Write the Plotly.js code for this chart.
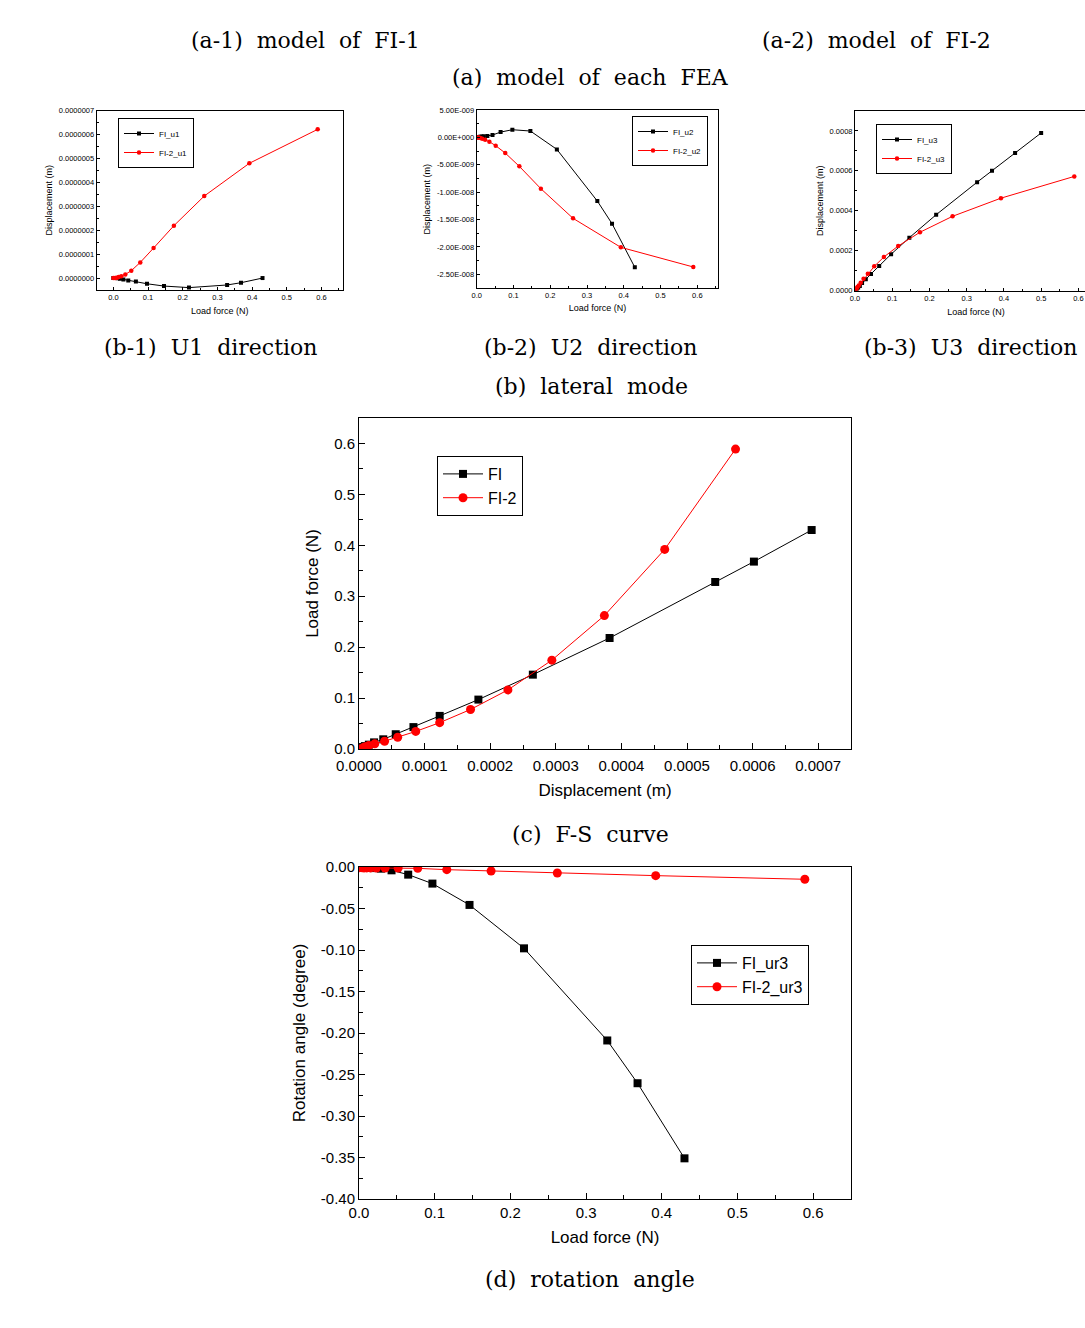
<!DOCTYPE html>
<html>
<head>
<meta charset="utf-8">
<script src="https://cdn.plot.ly/plotly-3.0.1.min.js"></script>
<style>
html,body{margin:0;padding:0;background:#fff;overflow:hidden;}
#chart{width:1100px;height:1328px;}
</style>
</head>
<body>
<div id="chart"></div>
<script>
// ---------- DATA ----------
// (b-1) U1 direction
const fiU1Load = [0, 0.0057, 0.0085, 0.013, 0.019, 0.029, 0.043, 0.065, 0.097, 0.146, 0.218, 0.328, 0.368, 0.43];
const fiU1Disp = [0, -0.1e-9, -0.3e-9, -1e-9, -3e-9, -5.6e-9, -10e-9, -14e-9, -24e-9, -33.5e-9, -40e-9, -29e-9, -19.5e-9, 0];
const fi2U1Load = [0, 0.0045, 0.0068, 0.0102, 0.0153, 0.023, 0.0345, 0.0517, 0.0776, 0.116, 0.1745, 0.262, 0.392, 0.589];
const fi2U1Disp = [0, 0.1e-9, 0.3e-9, 1.5e-9, 4e-9, 8e-9, 15.3e-9, 30.7e-9, 65.5e-9, 125.5e-9, 219e-9, 343e-9, 480e-9, 622e-9];

// (b-2) U2 direction
const fiU2Load = [0, 0.0057, 0.0085, 0.013, 0.019, 0.029, 0.043, 0.065, 0.097, 0.146, 0.218, 0.328, 0.368, 0.43];
const fiU2Disp = [0, 0.05e-9, 0.1e-9, 0.15e-9, 0.2e-9, 0.24e-9, 0.43e-9, 0.97e-9, 1.4e-9, 1.16e-9, -2.19e-9, -11.62e-9, -15.75e-9, -23.72e-9];
const fi2U2Load = [0, 0.0045, 0.0068, 0.0102, 0.0153, 0.023, 0.0345, 0.0517, 0.0776, 0.116, 0.1745, 0.262, 0.392, 0.589];
const fi2U2Disp = [0, -0.03e-9, -0.06e-9, -0.1e-9, -0.24e-9, -0.43e-9, -0.79e-9, -1.52e-9, -2.86e-9, -5.29e-9, -9.37e-9, -14.78e-9, -20.07e-9, -23.66e-9];
const u2TickVals = [5e-9, 0, -5e-9, -1e-8, -1.5e-8, -2e-8, -2.5e-8];
const u2TickText = ["5.00E-009", "0.00E+000", "-5.00E-009", "-1.00E-008", "-1.50E-008", "-2.00E-008", "-2.50E-008"];

// (b-3) U3 direction
const fiU3Load = [0, 0.0038, 0.0057, 0.0085, 0.013, 0.019, 0.029, 0.043, 0.065, 0.097, 0.146, 0.218, 0.328, 0.368, 0.43, 0.5];
const fiU3Disp = [0, 0.05e-4, 0.09e-4, 0.15e-4, 0.23e-4, 0.37e-4, 0.56e-4, 0.83e-4, 1.23e-4, 1.82e-4, 2.65e-4, 3.8e-4, 5.43e-4, 6.0e-4, 6.9e-4, 7.9e-4];
const fi2U3Load = [0, 0.003, 0.0045, 0.0068, 0.0102, 0.0153, 0.023, 0.0345, 0.0517, 0.0776, 0.116, 0.1745, 0.262, 0.392, 0.589];
const fi2U3Disp = [0, 0.07e-4, 0.1e-4, 0.17e-4, 0.25e-4, 0.39e-4, 0.59e-4, 0.84e-4, 1.21e-4, 1.68e-4, 2.23e-4, 2.92e-4, 3.72e-4, 4.63e-4, 5.72e-4];

// (c) F-S curve
const fiCDisp = [0, 0.05e-4, 0.09e-4, 0.15e-4, 0.23e-4, 0.37e-4, 0.56e-4, 0.83e-4, 1.23e-4, 1.82e-4, 2.65e-4, 3.82e-4, 5.43e-4, 6.02e-4, 6.9e-4];
const fiCLoad = [0, 0.0038, 0.0057, 0.0085, 0.013, 0.019, 0.029, 0.043, 0.065, 0.097, 0.146, 0.218, 0.328, 0.368, 0.43];
const fi2CDisp = [0, 0.07e-4, 0.1e-4, 0.15e-4, 0.24e-4, 0.39e-4, 0.59e-4, 0.865e-4, 1.23e-4, 1.70e-4, 2.27e-4, 2.94e-4, 3.74e-4, 4.66e-4, 5.74e-4];
const fi2CLoad = [0, 0.003, 0.0045, 0.0068, 0.0102, 0.0153, 0.023, 0.0345, 0.0517, 0.0776, 0.116, 0.1745, 0.262, 0.392, 0.589];

// (d) rotation angle
const fiUr3Load = [0, 0.0057, 0.0085, 0.013, 0.019, 0.029, 0.043, 0.065, 0.097, 0.146, 0.218, 0.328, 0.368, 0.43];
const fiUr3Angle = [-0.001, -0.001, -0.0011, -0.0012, -0.0013, -0.002, -0.004, -0.0092, -0.020, -0.0457, -0.098, -0.209, -0.2605, -0.351];
const fi2Ur3Load = [0, 0.0045, 0.0068, 0.0102, 0.0153, 0.023, 0.0345, 0.0517, 0.0776, 0.116, 0.1745, 0.262, 0.392, 0.589];
const fi2Ur3Angle = [-0.001, -0.001, -0.0011, -0.0011, -0.0011, -0.0012, -0.0012, -0.0013, -0.0016, -0.0032, -0.0048, -0.0072, -0.0104, -0.0148];
const urTickVals = [0, -0.05, -0.10, -0.15, -0.20, -0.25, -0.30, -0.35, -0.40];
const urTickText = ["0.00", "-0.05", "-0.10", "-0.15", "-0.20", "-0.25", "-0.30", "-0.35", "-0.40"];

// captions
const captions = [
  {text: "(a-1)\u00a0\u00a0model\u00a0\u00a0of\u00a0\u00a0FI-1", cx: 305, cy: 40},
  {text: "(a-2)\u00a0\u00a0model\u00a0\u00a0of\u00a0\u00a0FI-2", cx: 876, cy: 40},
  {text: "(a)\u00a0\u00a0model\u00a0\u00a0of\u00a0\u00a0each\u00a0\u00a0FEA", cx: 590, cy: 78},
  {text: "(b-1)\u00a0\u00a0U1\u00a0\u00a0direction", cx: 210, cy: 348},
  {text: "(b-2)\u00a0\u00a0U2\u00a0\u00a0direction", cx: 590, cy: 347},
  {text: "(b-3)\u00a0\u00a0U3\u00a0\u00a0direction", cx: 970, cy: 348},
  {text: "(b)\u00a0\u00a0lateral\u00a0\u00a0mode", cx: 591, cy: 386},
  {text: "(c)\u00a0\u00a0F-S\u00a0\u00a0curve", cx: 590, cy: 834},
  {text: "(d)\u00a0\u00a0rotation\u00a0\u00a0angle", cx: 590, cy: 1279}
];

// ---------- LAYOUT ----------
const W = 1100, H = 1328;
const SANS = "Liberation Sans, Arial, sans-serif";
const fx = p => p / W;
const fy = p => 1 - p / H;

function axis(o) {
  const a = {
    domain: o.domain, range: o.range, anchor: o.anchor,
    showline: true, linecolor: '#000', linewidth: 1, mirror: true,
    ticks: 'inside', ticklen: o.big ? 6 : 3, tickwidth: 1, tickcolor: '#000',
    showgrid: false, zeroline: false,
    tickfont: {family: SANS, size: o.big ? 15 : 7.5, color: '#000'},
    title: {text: o.title, font: {family: SANS, size: o.big ? 17 : 9, color: '#000'}, standoff: o.standoff},
    minor: {ticks: 'inside', ticklen: o.big ? 4 : 2, tickcolor: '#000', tickwidth: 1, showgrid: false,
            tickmode: 'linear', tick0: 0, dtick: o.minor},
    automargin: false
  };
  if (o.labelOff) a.ticklabelstandoff = o.labelOff;
  if (o.tickvals) { a.tickmode = 'array'; a.tickvals = o.tickvals; a.ticktext = o.ticktext; }
  else { a.tickmode = 'linear'; a.tick0 = 0; a.dtick = o.dtick; a.tickformat = o.fmt; }
  return a;
}

function legend(x, y, size, itemwidth) {
  return {x: fx(x), y: fy(y), xanchor: 'left', yanchor: 'top', bgcolor: 'rgba(255,255,255,0)',
          bordercolor: '#000', borderwidth: 1, font: {family: SANS, size: size, color: '#000'},
          itemwidth: itemwidth, tracegroupgap: 0};
}

function tr(x, y, name, color, symbol, size, xa, ya, lg) {
  return {x: x, y: y, name: name, type: 'scatter', mode: 'lines+markers',
          line: {color: color, width: 1}, marker: {color: color, symbol: symbol, size: size},
          xaxis: xa, yaxis: ya, legend: lg, showlegend: true};
}

const traces = [
  tr(fiU1Load, fiU1Disp, 'FI_u1', '#000', 'square', 4, 'x', 'y', 'legend'),
  tr(fi2U1Load, fi2U1Disp, 'FI-2_u1', '#ff0000', 'circle', 4.5, 'x', 'y', 'legend'),
  tr(fiU2Load, fiU2Disp, 'FI_u2', '#000', 'square', 4, 'x2', 'y2', 'legend2'),
  tr(fi2U2Load, fi2U2Disp, 'FI-2_u2', '#ff0000', 'circle', 4.5, 'x2', 'y2', 'legend2'),
  tr(fiU3Load, fiU3Disp, 'FI_u3', '#000', 'square', 4, 'x3', 'y3', 'legend3'),
  tr(fi2U3Load, fi2U3Disp, 'FI-2_u3', '#ff0000', 'circle', 4.5, 'x3', 'y3', 'legend3'),
  tr(fiCDisp, fiCLoad, 'FI', '#000', 'square', 8, 'x4', 'y4', 'legend4'),
  tr(fi2CDisp, fi2CLoad, 'FI-2', '#ff0000', 'circle', 9, 'x4', 'y4', 'legend4'),
  tr(fiUr3Load, fiUr3Angle, 'FI_ur3', '#000', 'square', 8, 'x5', 'y5', 'legend5'),
  tr(fi2Ur3Load, fi2Ur3Angle, 'FI-2_ur3', '#ff0000', 'circle', 9, 'x5', 'y5', 'legend5')
];

const layout = {
  width: W, height: H, margin: {l: 0, r: 0, t: 0, b: 0},
  paper_bgcolor: '#fff', plot_bgcolor: '#fff', showlegend: true,
  font: {family: SANS, color: '#000'},
  // (b-1)
  xaxis: axis({domain: [fx(96.7), fx(343)], range: [-0.048, 0.662], anchor: 'y', dtick: 0.1, fmt: '.1f', minor: 0.05, title: 'Load force (N)', standoff: 6}),
  yaxis: axis({domain: [fy(290), fy(110.7)], range: [-5e-8, 7e-7], anchor: 'x', dtick: 1e-7, fmt: '.7f', minor: 5e-8, title: 'Displacement (m)', standoff: 4}),
  // (b-2)
  xaxis2: axis({domain: [fx(476.7), fx(718.3)], range: [0, 0.657], anchor: 'y2', dtick: 0.1, fmt: '.1f', minor: 0.05, title: 'Load force (N)', standoff: 5}),
  yaxis2: axis({domain: [fy(288.3), fy(110)], range: [-2.755e-8, 5e-9], anchor: 'x2', tickvals: u2TickVals, ticktext: u2TickText, minor: 2.5e-9, title: 'Displacement (m)', standoff: 4}),
  // (b-3)
  xaxis3: axis({domain: [fx(855), fx(1097)], range: [0, 0.65], anchor: 'y3', dtick: 0.1, fmt: '.1f', minor: 0.05, title: 'Load force (N)', standoff: 7}),
  yaxis3: axis({domain: [fy(290.5), fy(111)], range: [0, 0.0009], anchor: 'x3', dtick: 0.0002, fmt: '.4f', minor: 0.0001, title: 'Displacement (m)', standoff: 4}),
  // (c)
  xaxis4: axis({big: true, domain: [fx(359), fx(851)], range: [0, 0.00075], anchor: 'y4', dtick: 0.0001, fmt: '.4f', minor: 0.00005, title: 'Displacement (m)', standoff: 11, labelOff: 3}),
  yaxis4: axis({big: true, domain: [fy(749), fy(418)], range: [0, 0.65], anchor: 'x4', dtick: 0.1, fmt: '.1f', minor: 0.05, title: 'Load force (N)', standoff: 11}),
  // (d)
  xaxis5: axis({big: true, domain: [fx(359), fx(851)], range: [0, 0.65], anchor: 'y5', dtick: 0.1, fmt: '.1f', minor: 0.05, title: 'Load force (N)', standoff: 11}),
  yaxis5: axis({big: true, domain: [fy(1199), fy(867)], range: [-0.4, 0], anchor: 'x5', tickvals: urTickVals, ticktext: urTickText, minor: 0.025, title: 'Rotation angle (degree)', standoff: 10}),
  legend: legend(118, 118, 8, 30),
  legend2: legend(632, 116, 8, 30),
  legend3: legend(876, 124, 8, 30),
  legend4: legend(437, 456, 16, 40),
  legend5: legend(691, 945, 16, 40),
  annotations: captions.map(c => ({
    text: c.text, x: fx(c.cx), y: fy(c.cy), xref: 'paper', yref: 'paper',
    xanchor: 'center', yanchor: 'middle', showarrow: false,
    font: {family: 'DejaVu Serif, serif', size: 22, color: '#000'}
  }))
};

Plotly.newPlot('chart', traces, layout, {displayModeBar: false, staticPlot: true});
</script>
</body>
</html>
